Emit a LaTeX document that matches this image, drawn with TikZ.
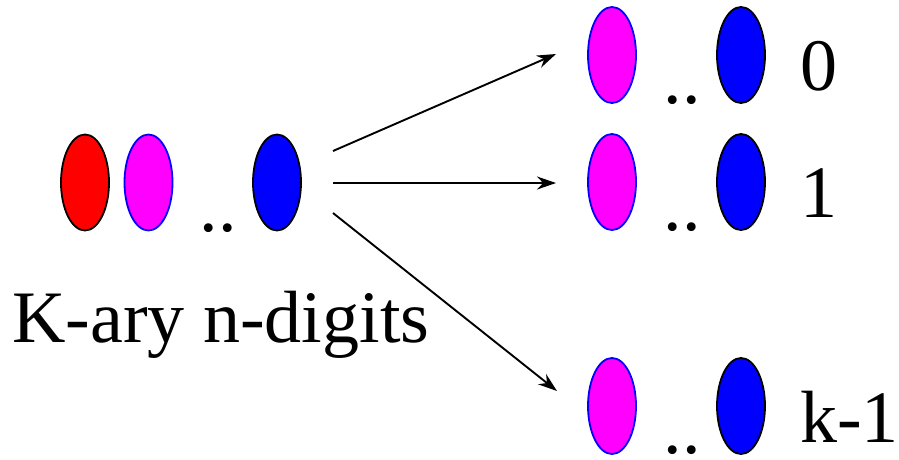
\documentclass[tikz,border=0pt]{standalone}
\usepackage{fontspec}
\setmainfont{Liberation Serif}
\usetikzlibrary{shapes.geometric,arrows.meta}
\definecolor{magentaA}{RGB}{255,0,255}
\definecolor{blueA}{RGB}{0,0,255}
\definecolor{redA}{RGB}{255,0,0}
\tikzset{
  oval/.style={ellipse,minimum width=48pt,minimum height=96pt,inner sep=0pt,line width=1.8pt},
  redoval/.style={oval,fill=redA,draw=black},
  magoval/.style={oval,fill=magentaA,draw=blueA},
  blueoval/.style={oval,fill=blueA,draw=black},
  lbl/.style={font=\fontsize{74}{80}\selectfont,inner sep=0pt},
  arr/.style={line width=1.9pt,-{Stealth[length=19pt,width=13pt]}}
}
\begin{document}
\begin{tikzpicture}[x=1pt,y=-1pt]
\useasboundingbox (0,0) rectangle (899,459);
% left group
\node[redoval] (r0) at (85,182.5) {};
\node[magoval] (m0) at (148.5,182.5) {};
\node[blueoval] (b0) at (277,182.5) {};
\node[lbl,anchor=base] (d0) at (218,231) {..};
\node[lbl,anchor=base west] (txt) at (12,342) {K-ary n-digits};
% right rows
\node[magoval] (m1) at (612,55) {};
\node[blueoval] (b1) at (741,55) {};
\node[lbl,anchor=base] (d1) at (682,103) {..};
\node[lbl,anchor=base west] (l1) at (800,90) {0};
\node[magoval] (m2) at (612,182) {};
\node[blueoval] (b2) at (741,182) {};
\node[lbl,anchor=base] (d2) at (682,230) {..};
\node[lbl,anchor=base west] (l2) at (800,217) {1};
\node[magoval] (m3) at (612,406) {};
\node[blueoval] (b3) at (741,406) {};
\node[lbl,anchor=base] (d3) at (682,453) {\smash{..}};
\node[lbl,anchor=base west] (l3) at (800,442) {k-1};
% arrows
\coordinate (s1) at (333,151);
\coordinate (s2) at (333,183);
\coordinate (s3) at (333,213);
\coordinate (e1) at (556,54);
\coordinate (e2) at (556,183);
\coordinate (e3) at (557,391);
\draw[arr] (s1) -- (e1);
\draw[arr] (s2) -- (e2);
\draw[arr] (s3) -- (e3);
\end{tikzpicture}
\end{document}
